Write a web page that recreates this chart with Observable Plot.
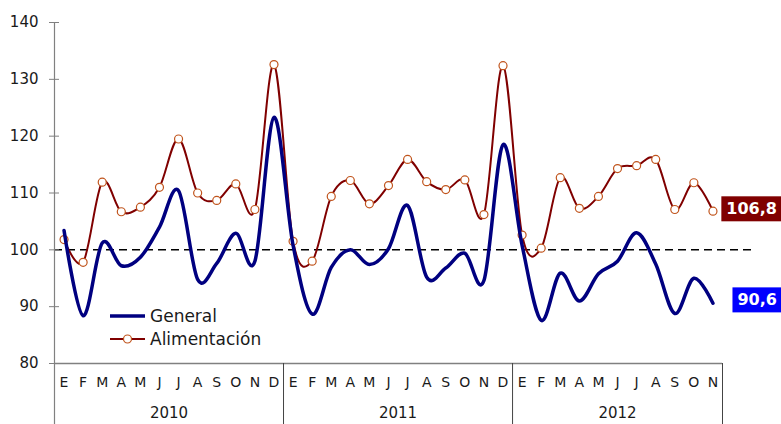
<!DOCTYPE html>
<html><head><meta charset="utf-8">
<script src="https://cdn.jsdelivr.net/npm/d3@7"></script>
<script src="https://cdn.jsdelivr.net/npm/@observablehq/plot@0.6"></script>
<style>body{margin:0;background:#fff;} #chart{position:relative;width:781px;height:424px;overflow:hidden}</style>
</head><body><div id="chart"></div>
<script>
const months = ["E","F","M","A","M","J","J","A","S","O","N","D"];
const years = ["2010","2011","2012"];
const monthsPerYear = [12, 12, 11];
const seriesNames = ["General", "Alimentación"];
const yTicks = [80, 90, 100, 110, 120, 130, 140];
const general = [
  103.4, 88.4, 101.2, 97.2, 98.7, 104.0, 110.4, 94.8, 97.6, 102.9, 98.0, 123.3,
  100.8, 88.7, 96.9, 100.0, 97.4, 100.2, 107.8, 95.2, 96.8, 99.4, 94.6, 118.5,
  100.8, 87.6, 95.9, 91.0, 95.8, 98.0, 103.0, 97.5, 88.8, 95.0, 90.6
];
const alimentacion = [
  101.8, 97.8, 111.9, 106.7, 107.5, 111.0, 119.5, 110.0, 108.7, 111.6, 107.1, 132.6,
  101.5, 98.0, 109.4, 112.2, 108.1, 111.3, 115.9, 112.0, 110.6, 112.3, 106.2, 132.4,
  102.6, 100.3, 112.7, 107.3, 109.4, 114.3, 114.8, 115.9, 107.1, 111.8, 106.8
];
const baseline = 100;

const data = general.map((g, i) => ({i, general: g, alim: alimentacion[i], month: months[i % 12]}));
const yearData = years.map((y, k) => {
  const start = monthsPerYear.slice(0, k).reduce((a, b) => a + b, 0);
  return {year: y, start: start - 0.5, end: start + monthsPerYear[k] - 0.5, mid: start + (monthsPerYear[k] - 1) / 2};
});
const last = data[data.length - 1];
const fmt = v => String(v.toFixed(1)).replace(".", ",");

const BLUE = "#000080", RED = "#800000", MARK = "#c0541c", AXIS = "#808080";
const font = "'DejaVu Sans', Verdana, sans-serif";

const plot = Plot.plot({
  width: 781, height: 424,
  marginLeft: 54, marginRight: 59, marginTop: 22, marginBottom: 61,
  style: {fontFamily: font, background: "white", overflow: "visible"},
  x: {domain: [-0.5, 34.5], axis: null},
  y: {domain: [80, 140], axis: null},
  marks: [
    Plot.ruleY([baseline], {stroke: "#000", strokeWidth: 1.5, strokeDasharray: "8,5", insetRight: -30}),
    Plot.axisY({ticks: yTicks, tickSize: 10, dx: 5, tickPadding: 11, fontSize: 15, stroke: AXIS, fill: "#1a1a1a", tickFormat: d => d}),
    Plot.ruleX([yearData[0].start], {stroke: AXIS, strokeWidth: 1.2, insetBottom: -61}),
    Plot.ruleY([80], {stroke: AXIS, strokeWidth: 1.5}),
    Plot.ruleX(yearData.map(d => d.end), {stroke: "#444", strokeWidth: 1, insetTop: 341, insetBottom: -61}),
    Plot.text(data, {x: "i", text: "month", frameAnchor: "bottom", dy: 23, fontSize: 14, fill: "#1a1a1a"}),
    Plot.text(yearData, {x: "mid", text: "year", frameAnchor: "bottom", dy: 54, fontSize: 15, fill: "#1a1a1a"}),
    Plot.line(data, {x: "i", y: "alim", curve: "cardinal", stroke: RED, strokeWidth: 2}),
    Plot.dot(data, {x: "i", y: "alim", r: 4, fill: "white", stroke: MARK, strokeWidth: 1.2}),
    Plot.line(data, {x: "i", y: "general", curve: "cardinal", stroke: BLUE, strokeWidth: 3.5}),
    Plot.text([last], {x: "i", y: "alim", text: d => fmt(d.alim), dx: 64, dy: -2, textAnchor: "end", fill: "white", fontWeight: "bold", fontSize: 16}),
    Plot.text([last], {x: "i", y: "general", text: d => fmt(d.general), dx: 64, dy: -3, textAnchor: "end", fill: "white", fontWeight: "bold", fontSize: 16})
  ]
});
document.getElementById("chart").appendChild(plot);

// label boxes behind end values
const svg = d3.select(plot);
const svgBox = plot.getBoundingClientRect();
const boxColor = {[fmt(last.alim)]: RED, [fmt(last.general)]: "#0000ff"};
plot.querySelectorAll("text").forEach(t => {
  const c = boxColor[t.textContent];
  if (!c) return;
  const b = t.getBoundingClientRect();
  const x0 = b.left - svgBox.left - 5;
  const y0 = b.top - svgBox.top - 3;
  const rect = document.createElementNS("http://www.w3.org/2000/svg", "rect");
  rect.setAttribute("x", x0); rect.setAttribute("y", y0);
  rect.setAttribute("width", 781 - x0); rect.setAttribute("height", b.height + 6);
  rect.setAttribute("fill", c);
  let g = t;
  while (g.parentNode && g.parentNode !== plot) g = g.parentNode;
  plot.insertBefore(rect, g);
});

// legend
const lg = svg.append("g").attr("font-family", font).attr("font-size", 17).attr("text-anchor", "start");
const rows = [{name: seriesNames[0], y: 316, color: BLUE, w: 3.5, dot: false}, {name: seriesNames[1], y: 339, color: RED, w: 2, dot: true}];
rows.forEach(r => {
  lg.append("line").attr("x1", 110).attr("x2", 145).attr("y1", r.y).attr("y2", r.y).attr("stroke", r.color).attr("stroke-width", r.w);
  if (r.dot) lg.append("circle").attr("cx", 127.5).attr("cy", r.y).attr("r", 4).attr("fill", "white").attr("stroke", MARK).attr("stroke-width", 1.2);
  lg.append("text").attr("x", 150).attr("y", r.y).attr("dy", "0.35em").attr("fill", "#1a1a1a").text(r.name);
});
</script></body></html>
